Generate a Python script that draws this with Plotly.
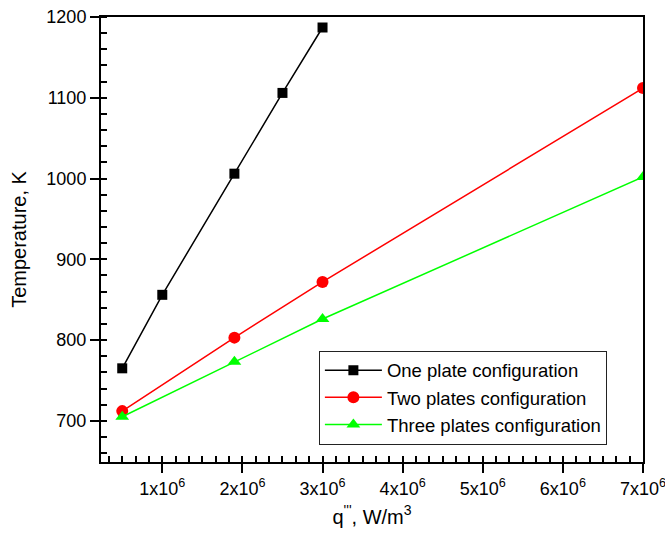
import numpy as np
import plotly.graph_objects as go

# Volumetric heat generation (W/m^3) and peak temperature (K)
q_one = [0.5e6, 1.0e6, 1.9e6, 2.5e6, 3.0e6]
t_one = [765, 856, 1006, 1106, 1187]

q_two = [0.5e6, 1.9e6, 3.0e6, 7.0e6]
t_two = [712, 803, 872, 1112]

q_three = [0.5e6, 1.9e6, 3.0e6, 7.0e6]
t_three = [705, 773, 826, 1002]

x_tick_vals = [1e6, 2e6, 3e6, 4e6, 5e6, 6e6, 7e6]
x_tick_text = [f"{i}x10<sup>6</sup>" for i in range(1, 8)]

FONT = "Liberation Sans, Arial, sans-serif"

fig = go.Figure()
fig.add_trace(go.Scatter(
    x=q_one, y=t_one, mode="lines+markers", name="One plate configuration",
    line=dict(color="black", width=1.5),
    marker=dict(symbol="square", size=10, color="black"),
))
fig.add_trace(go.Scatter(
    x=q_two, y=t_two, mode="lines+markers", name="Two plates configuration",
    line=dict(color="#ff0000", width=1.5),
    marker=dict(symbol="circle", size=12, color="#ff0000"),
))
fig.add_trace(go.Scatter(
    x=q_three, y=t_three, mode="lines+markers", name="Three plates configuration",
    line=dict(color="#00ff00", width=1.5),
    marker=dict(symbol="triangle-up", size=12, color="#00ff00"),
))

axis_common = dict(
    showline=True, linecolor="black", linewidth=2, mirror=True,
    showgrid=False, zeroline=False, automargin=False,
    ticks="outside", ticklen=9, tickwidth=1.5, tickcolor="black",
    tickfont=dict(family=FONT, size=18, color="black"),
    ticklabeloverflow="allow",
)

fig.update_layout(
    width=665, height=541,
    margin=dict(l=101, r=22, t=17, b=79),
    paper_bgcolor="white", plot_bgcolor="white",
    font=dict(family=FONT, color="black"),
    xaxis=dict(
        **axis_common,
        range=[0.235e6, 7.0e6],
        tickmode="array", tickvals=x_tick_vals, ticktext=x_tick_text,
        minor=dict(tickmode="array",
                   tickvals=list(np.arange(1, 42) * 1e6 / 6),
                   ticks="inside", ticklen=6, tickwidth=1.5, tickcolor="black"),
        title=dict(text="q<sup>'''</sup>, W/m<sup>3</sup>",
                   font=dict(family=FONT, size=20, color="black"), standoff=12),
    ),
    yaxis=dict(
        **axis_common,
        range=[649, 1200],
        tickmode="linear", tick0=700, dtick=100,
        minor=dict(dtick=20, ticks="inside", ticklen=6, tickwidth=1.5, tickcolor="black"),
        title=dict(text="Temperature, K",
                   font=dict(family=FONT, size=20, color="black"), standoff=14),
    ),
    legend=dict(
        x=0.402, y=0.25, xanchor="left", yanchor="top",
        bgcolor="white", bordercolor="#222222", borderwidth=1,
        font=dict(family=FONT, size=18.5, color="black"),
        itemwidth=57,
        entrywidth=300, entrywidthmode="pixels",
    ),
    showlegend=True,
)

fig.write_html("out.html")
